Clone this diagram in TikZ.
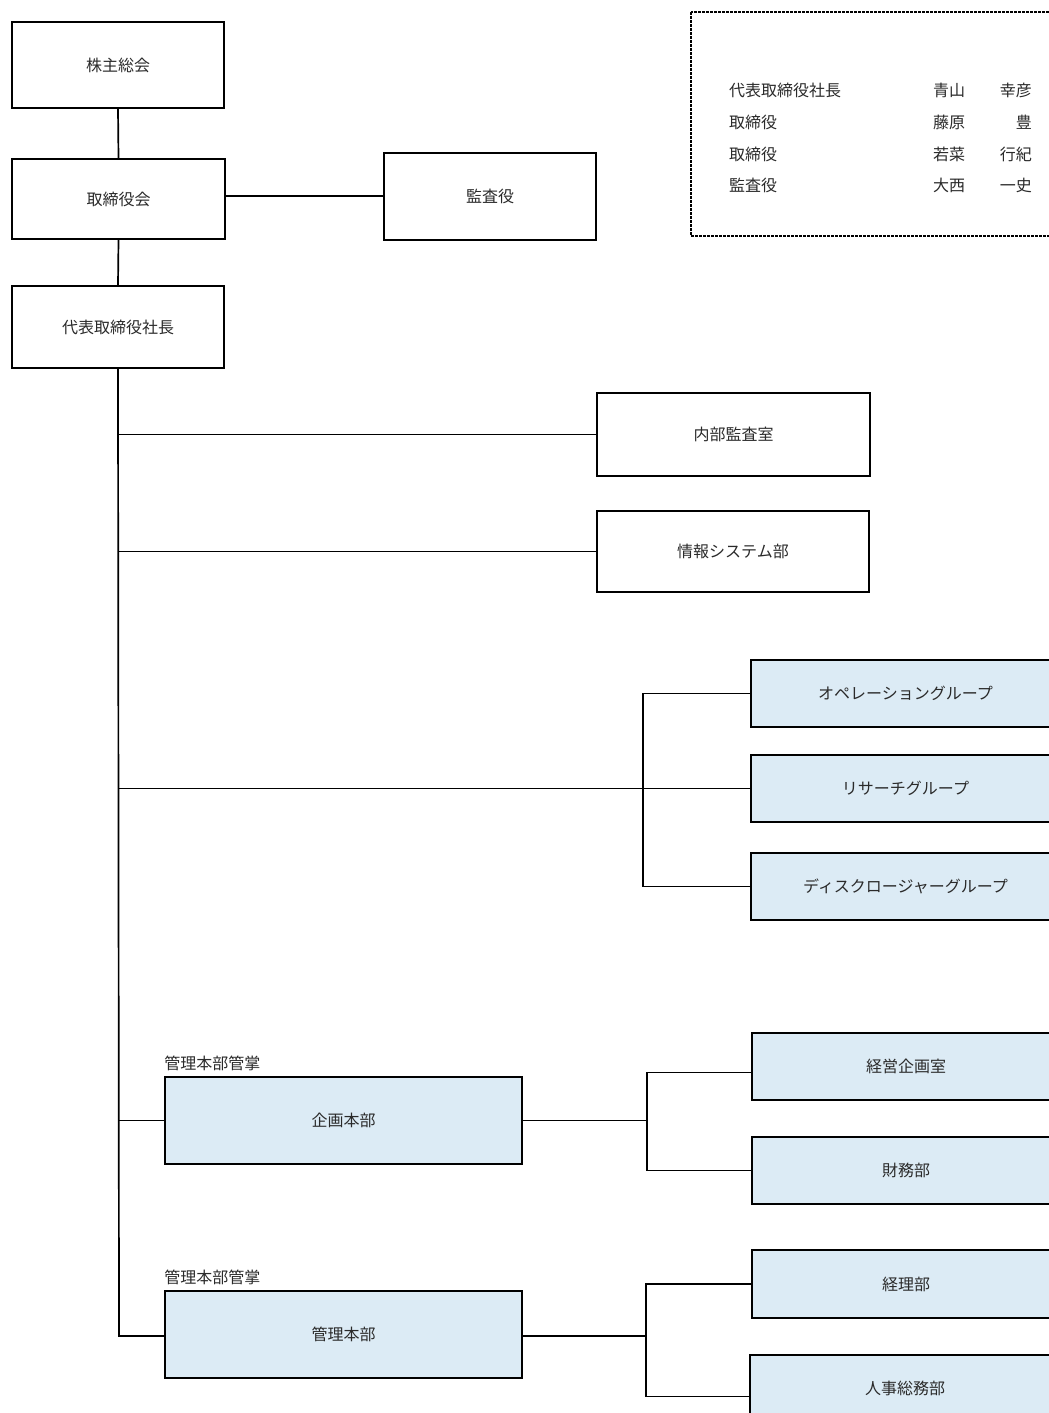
\documentclass[tikz,border=0pt]{standalone}
\usepackage{fontspec}
\setmainfont{Noto Sans CJK JP}
\definecolor{boxblue}{HTML}{DCEBF5}
\definecolor{txt}{HTML}{2A2A2A}
\begin{document}
\begin{tikzpicture}[x=1pt,y=-1pt,
  box/.style={draw=black,line width=1.8pt,rectangle,inner sep=0pt,text=txt,font=\fontsize{16}{16}\selectfont},
  bluebox/.style={box,fill=boxblue},
  conn/.style={line width=1.7pt,draw=black},
  lbl/.style={inner sep=0pt,text=txt,font=\fontsize{16}{16}\selectfont}]
\useasboundingbox (0,0) rectangle (1049,1413);
\clip (0,0) rectangle (1049,1413);
% top nodes
\node[box,minimum width=212pt,minimum height=86pt] (kabu) at (118,65) {株主総会};
\node[box,minimum width=213pt,minimum height=80pt] (tori) at (118.5,199) {取締役会};
\node[box,minimum width=212pt,minimum height=82pt] (shacho) at (118,327) {代表取締役社長};
\node[box,minimum width=212pt,minimum height=87pt] (kansa) at (490,196.5) {監査役};
\node[box,minimum width=273pt,minimum height=83pt] (naibu) at (733.5,434.5) {内部監査室};
\node[box,minimum width=272pt,minimum height=81pt] (joho) at (733,551.5) {情報システム部};
% groups
\node[bluebox,minimum width=309pt,minimum height=67pt] (ope) at (905.5,693.5) {オペレーショングループ};
\node[bluebox,minimum width=309pt,minimum height=67pt] (risa) at (905.5,788.5) {リサーチグループ};
\node[bluebox,minimum width=309pt,minimum height=67pt] (disc) at (905.5,886.5) {ディスクロージャーグループ};
% divisions
\node[bluebox,minimum width=357pt,minimum height=87pt] (kikaku) at (343.5,1120.5) {企画本部};
\node[bluebox,minimum width=357pt,minimum height=87pt] (kanri) at (343.5,1334.5) {管理本部};
\node[bluebox,minimum width=308pt,minimum height=67pt] (keiei) at (906,1066.5) {経営企画室};
\node[bluebox,minimum width=308pt,minimum height=67pt] (zaimu) at (906,1170.5) {財務部};
\node[bluebox,minimum width=308pt,minimum height=68pt] (keiri) at (906,1284) {経理部};
\node[bluebox,minimum width=310pt,minimum height=67pt] (jinji) at (905,1388.5) {人事総務部};
\node[lbl,anchor=south west] (kl1) at ([yshift=5pt]kikaku.north west) {管理本部管掌};
\node[lbl,anchor=south west] (kl2) at ([yshift=5pt]kanri.north west) {管理本部管掌};
% connectors
\draw[conn] (kabu.south) -- (tori.north);
\draw[conn] (tori.south) -- (shacho.north);
\draw[conn] ([yshift=3pt]tori.east) -- ([yshift=3pt]tori.east -| kansa.west);
\coordinate (trunk) at (119,1336);
\draw[conn] (shacho.south) -- (trunk) -- (trunk -| kanri.west);
\draw[conn] (trunk |- naibu.west) -- (naibu.west);
\draw[conn] (trunk |- joho.west) -- (joho.west);
\draw[conn] (trunk |- risa.west) -- (risa.west);
\draw[conn] (trunk |- kikaku.west) -- (kikaku.west);
\coordinate (b1) at (643,788.5);
\draw[conn] (ope.west) -- (ope.west -| b1) -- (disc.west -| b1) -- (disc.west);
\coordinate (b2) at (647,1120.5);
\draw[conn] (kikaku.east) -- (b2);
\draw[conn] ([yshift=-6pt]keiei.west) -- ([yshift=-6pt]keiei.west -| b2) -- (zaimu.west -| b2) -- (zaimu.west);
\coordinate (b3) at (646,1336);
\draw[conn] (trunk -| kanri.east) -- (b3);
\draw[conn] (keiri.west) -- (keiri.west -| b3) -- ([yshift=-8pt]jinji.west -| b3) -- ([yshift=-8pt]jinji.west);
% legend
\draw[line width=1.5pt,dash pattern=on 3pt off 1pt] (691,12) rectangle (1070,236);
\node[lbl,anchor=west] (r1) at (729,90) {代表取締役社長};
\node[lbl,anchor=west] (r2) at (729,122) {取締役};
\node[lbl,anchor=west] (r3) at (729,154) {取締役};
\node[lbl,anchor=west] (r4) at (729,185) {監査役};
\node[lbl,anchor=west] (s1) at (933,90) {青山};
\node[lbl,anchor=west] (s2) at (933,122) {藤原};
\node[lbl,anchor=west] (s3) at (933,154) {若菜};
\node[lbl,anchor=west] (s4) at (933,185) {大西};
\node[lbl,anchor=east] (g1) at (1032,90) {幸彦};
\node[lbl,anchor=east] (g2) at (1032,122) {豊};
\node[lbl,anchor=east] (g3) at (1032,154) {行紀};
\node[lbl,anchor=east] (g4) at (1032,185) {一史};
\end{tikzpicture}
\end{document}
